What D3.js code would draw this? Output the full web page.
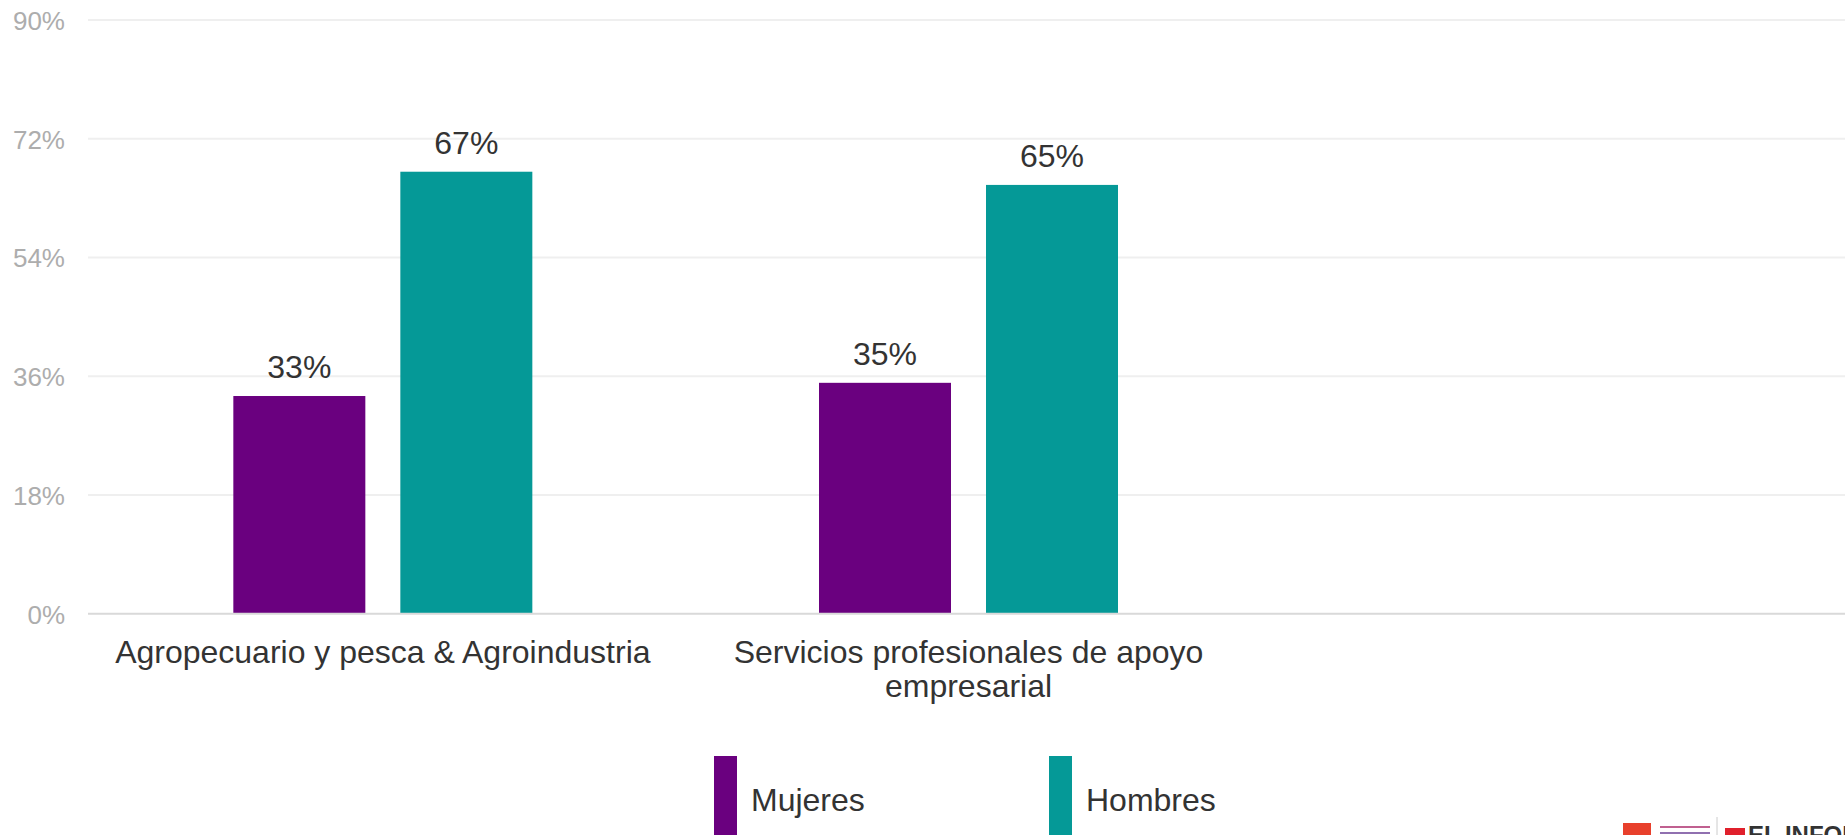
<!DOCTYPE html>
<html>
<head>
<meta charset="utf-8">
<script src="https://cdn.jsdelivr.net/npm/d3@7"></script>
<style>
  html, body { margin: 0; padding: 0; background: #fff; overflow: hidden; }
  svg { display: block; font-family: Arial, "Liberation Sans", sans-serif; }
</style>
</head>
<body>
<svg id="chart" width="1845" height="835"></svg>
<script>
// ---- data ----
const categories = ["Agropecuario y pesca & Agroindustria", "Servicios profesionales de apoyo empresarial", ""];
const seriesNames = ["Mujeres", "Hombres"];
const mujeres = [33, 35, null];
const hombres = [67, 65, null];
const yTicks = [0, 18, 36, 54, 72, 90];
const colors = ["#6a007f", "#059997"];

const svg = d3.select("#chart");
const W = 1845, H = 835;
const gridLeft = 88;

const x0 = d3.scaleBand().domain(categories).range([90, W + 2]).padding(0);
const groupW = 299;
const x1 = d3.scaleBand().domain(seriesNames)
  .range([(x0.bandwidth() - groupW) / 2, (x0.bandwidth() + groupW) / 2])
  .paddingInner(0.2096).paddingOuter(0);
const y = d3.scaleLinear().domain([0, 90]).range([613.7, 20]);
const color = d3.scaleOrdinal().domain(seriesNames).range(colors);

// gridlines
svg.append("g").selectAll("line").data(yTicks.filter(d => d > 0)).join("line")
  .attr("x1", gridLeft).attr("x2", W)
  .attr("y1", d => y(d)).attr("y2", d => y(d))
  .attr("stroke", "#efefef").attr("stroke-width", 2);

// y axis labels
const yAxis = d3.axisLeft(y).tickValues(yTicks).tickFormat(d => d + "%").tickSize(0).tickPadding(0);
const yg = svg.append("g").attr("transform", "translate(65,0)").call(yAxis);
yg.select(".domain").remove();
yg.selectAll("text").attr("fill", "#adadad").attr("font-size", 26)
  .attr("font-family", "Arial, 'Liberation Sans', sans-serif").attr("dy", "0.36em");

// bars
const rows = categories.map((c, i) => ({ cat: c, vals: [
  { s: "Mujeres", v: mujeres[i] }, { s: "Hombres", v: hombres[i] }
].filter(d => d.v != null) }));

const groups = svg.append("g").selectAll("g").data(rows).join("g")
  .attr("transform", d => `translate(${x0(d.cat)},0)`);

groups.selectAll("rect").data(d => d.vals).join("rect")
  .attr("x", d => x1(d.s)).attr("width", x1.bandwidth())
  .attr("y", d => y(d.v)).attr("height", d => y(0) - y(d.v))
  .attr("fill", d => color(d.s));

groups.selectAll("text.val").data(d => d.vals).join("text")
  .attr("class", "val")
  .attr("x", d => x1(d.s) + x1.bandwidth() / 2)
  .attr("y", d => y(d.v) - 18)
  .attr("text-anchor", "middle").attr("font-size", 32).attr("fill", "#333")
  .text(d => d.v + "%");

// x axis baseline
svg.append("line").attr("x1", gridLeft).attr("x2", W)
  .attr("y1", y(0)).attr("y2", y(0)).attr("stroke", "#d9d9d9").attr("stroke-width", 2);

// category labels
const xAxis = d3.axisBottom(x0).tickSize(0).tickPadding(0);
const xg = svg.append("g").attr("transform", `translate(0,${y(0)})`).call(xAxis);
xg.select(".domain").remove();
xg.selectAll("text").attr("font-size", 32).attr("fill", "#333")
  .attr("font-family", "Arial, 'Liberation Sans', sans-serif")
  .attr("y", 49).attr("dy", 0)
  .each(function (d) { wrap(d3.select(this), d, 540); });

function wrap(text, str, width) {
  const words = str.split(/\s+/).filter(Boolean);
  text.text(null);
  let line = [];
  let tspan = text.append("tspan").attr("x", 0).attr("dy", 0);
  words.forEach(w => {
    line.push(w);
    tspan.text(line.join(" "));
    if (tspan.node().getComputedTextLength() > width && line.length > 1) {
      line.pop();
      tspan.text(line.join(" "));
      line = [w];
      tspan = text.append("tspan").attr("x", 0).attr("dy", 34).text(w);
    }
  });
}

// legend
const legX = [714, 1049];
const leg = svg.append("g").selectAll("g").data(seriesNames).join("g")
  .attr("transform", (d, i) => `translate(${legX[i]},756)`);
leg.append("rect").attr("width", 23).attr("height", 90).attr("fill", d => color(d));
leg.append("text").attr("x", 37).attr("y", 55).attr("font-size", 32).attr("fill", "#333").text(d => d);

// logo area (bottom right)
const logo = svg.append("g");
logo.append("rect").attr("x", 1623).attr("y", 823).attr("width", 28).attr("height", 14).attr("fill", "#e8402c");
logo.append("rect").attr("x", 1660).attr("y", 826).attr("width", 50).attr("height", 2).attr("fill", "#c06090");
logo.append("rect").attr("x", 1660).attr("y", 832).attr("width", 50).attr("height", 2).attr("fill", "#9070b0");
logo.append("line").attr("x1", 1717).attr("x2", 1717).attr("y1", 817).attr("y2", 835).attr("stroke", "#ccc");
logo.append("rect").attr("x", 1725).attr("y", 828).attr("width", 20).attr("height", 10).attr("fill", "#e0202c");
logo.append("text").attr("x", 1748).attr("y", 843).attr("font-size", 24).attr("font-weight", "bold")
  .attr("fill", "#333").text("EL INFORMADOR");
</script>
</body>
</html>
